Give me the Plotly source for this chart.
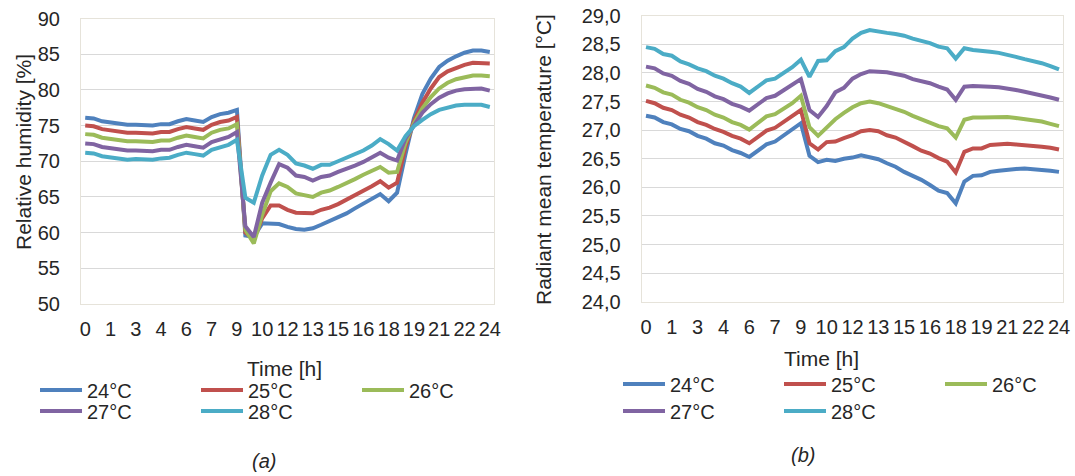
import plotly.graph_objects as go

# time axis: half-hourly 0 .. 24 h
hours = [i * 0.5 for i in range(49)]
tick_vals = [0, 1.5, 3, 4.5, 6, 7.5, 9, 10.5, 12, 13.5, 15, 16.5, 18, 19.5, 21, 22.5, 24]
tick_text = ["0", "1", "3", "4", "6", "7", "9", "10", "12", "13", "15", "16", "18", "19", "21", "22", "24"]
series_names = ["24°C", "25°C", "26°C", "27°C", "28°C"]
colors = ["#4F81BD", "#C0504D", "#9BBB59", "#8064A2", "#4BACC6"]

# (a) relative humidity [%]
rh_24 = [76.1, 76.0, 75.6, 75.4, 75.3, 75.1, 75.1, 75.0, 75.0, 75.2, 75.2, 75.6, 75.9, 75.7, 75.5, 76.2, 76.6,
         76.8, 77.2, 59.6, 59.4, 61.3, 61.2, 61.2, 60.8, 60.5, 60.4, 60.6, 61.1, 61.6, 62.1, 62.7, 63.4, 64.1,
         64.8, 65.4, 64.4, 65.6, 71.0, 76.0, 79.4, 81.6, 83.2, 84.1, 84.7, 85.2, 85.5, 85.5, 85.3]
rh_25 = [75.0, 74.9, 74.5, 74.3, 74.2, 74.0, 74.0, 73.9, 73.9, 74.1, 74.1, 74.5, 74.8, 74.6, 74.4, 75.1, 75.5,
         75.7, 76.2, 60.0, 59.0, 62.0, 63.8, 63.8, 63.2, 62.8, 62.7, 62.7, 63.2, 63.5, 64.0, 64.6, 65.2, 65.8,
         66.5, 67.2, 66.3, 67.0, 72.0, 75.6, 78.2, 80.2, 81.8, 82.6, 83.1, 83.5, 83.8, 83.8, 83.7]
rh_26 = [73.8, 73.7, 73.3, 73.1, 73.0, 72.8, 72.8, 72.7, 72.7, 72.9, 72.9, 73.3, 73.6, 73.4, 73.2, 74.0, 74.4,
         74.6, 75.2, 60.4, 58.5, 62.5, 65.8, 66.9, 66.4, 65.5, 65.3, 65.0, 65.6, 65.9, 66.4, 66.9, 67.5, 68.1,
         68.7, 69.2, 68.4, 68.5, 72.6, 75.3, 77.4, 79.0, 80.2, 81.0, 81.5, 81.8, 82.0, 82.0, 81.9]
rh_27 = [72.5, 72.4, 72.0, 71.8, 71.7, 71.5, 71.5, 71.4, 71.4, 71.6, 71.6, 72.0, 72.3, 72.1, 71.9, 72.7, 73.1,
         73.4, 74.1, 60.9, 59.4, 64.2, 67.0, 69.6, 69.1, 68.0, 67.8, 67.3, 67.8, 68.0, 68.5, 68.9, 69.4, 69.9,
         70.5, 71.2, 70.5, 70.1, 73.2, 75.1, 76.8, 78.0, 78.9, 79.5, 79.9, 80.1, 80.2, 80.2, 79.9]
rh_28 = [71.2, 71.1, 70.7, 70.5, 70.4, 70.2, 70.3, 70.2, 70.2, 70.4, 70.5, 70.9, 71.2, 71.0, 70.8, 71.6, 71.9,
         72.3, 73.0, 64.9, 64.2, 68.0, 70.9, 71.6, 70.9, 69.7, 69.4, 68.95, 69.5, 69.5, 70.0, 70.5, 71.0, 71.5,
         72.2, 73.1, 72.4, 71.5, 73.5, 74.9, 75.8, 76.6, 77.2, 77.5, 77.8, 77.9, 77.9, 77.9, 77.6]

# (b) radiant mean temperature [°C]
mrt_24 = [27.25, 27.22, 27.14, 27.10, 27.02, 26.98, 26.90, 26.85, 26.77, 26.73, 26.65, 26.60, 26.53, 26.64, 26.75,
          26.80, 26.90, 27.00, 27.12, 26.55, 26.44, 26.48, 26.46, 26.50, 26.52, 26.56, 26.52, 26.49, 26.42, 26.36,
          26.27, 26.20, 26.13, 26.04, 25.94, 25.90, 25.72, 26.10, 26.20, 26.21, 26.27, 26.29, 26.31, 26.32, 26.33,
          26.32, 26.31, 26.29, 26.27]
mrt_25 = [27.51, 27.47, 27.39, 27.35, 27.27, 27.22, 27.14, 27.09, 27.02, 26.97, 26.90, 26.85, 26.77, 26.88, 26.99,
          27.04, 27.14, 27.24, 27.35, 26.77, 26.66, 26.79, 26.80, 26.86, 26.91, 26.98, 27.00, 26.98, 26.91, 26.87,
          26.80, 26.72, 26.64, 26.59, 26.51, 26.45, 26.26, 26.62, 26.68, 26.68, 26.74, 26.75, 26.76, 26.75, 26.74,
          26.73, 26.71, 26.69, 26.66]
mrt_26 = [27.78, 27.74, 27.66, 27.62, 27.53, 27.48, 27.40, 27.35, 27.27, 27.22, 27.14, 27.09, 27.01, 27.12, 27.24,
          27.28, 27.38, 27.47, 27.60, 27.05, 26.90, 27.05, 27.19, 27.30, 27.40, 27.47, 27.50, 27.47, 27.42, 27.38,
          27.32, 27.25, 27.19, 27.14, 27.07, 27.03, 26.87, 27.18, 27.22, 27.22, 27.22, 27.23, 27.23, 27.21, 27.19,
          27.17, 27.15, 27.11, 27.07]
mrt_27 = [28.11, 28.08, 27.99, 27.95, 27.86, 27.81, 27.72, 27.67, 27.59, 27.54, 27.46, 27.41, 27.34, 27.45, 27.56,
          27.60, 27.70, 27.79, 27.89, 27.35, 27.23, 27.42, 27.66, 27.74, 27.90, 27.98, 28.03, 28.02, 28.01, 27.98,
          27.95, 27.89, 27.85, 27.82, 27.76, 27.71, 27.53, 27.76, 27.77, 27.77, 27.76, 27.75, 27.73, 27.70, 27.67,
          27.64, 27.61, 27.57, 27.53]
mrt_28 = [28.45, 28.42, 28.33, 28.30, 28.20, 28.15, 28.08, 28.03, 27.95, 27.90, 27.82, 27.76, 27.65, 27.75, 27.87,
          27.90, 28.00, 28.10, 28.23, 27.93, 28.21, 28.22, 28.38, 28.45, 28.60, 28.70, 28.75, 28.72, 28.70, 28.68,
          28.65, 28.60, 28.56, 28.52, 28.46, 28.43, 28.25, 28.43, 28.40, 28.39, 28.37, 28.35, 28.32, 28.28, 28.24,
          28.21, 28.17, 28.12, 28.06]

rh_series = [rh_24, rh_25, rh_26, rh_27, rh_28]
mrt_series = [mrt_24, mrt_25, mrt_26, mrt_27, mrt_28]

FONT = "Liberation Sans, Arial, sans-serif"
TXT = "#262626"
fig = go.Figure()

for i, (name, col, ys) in enumerate(zip(series_names, colors, rh_series)):
    fig.add_trace(go.Scatter(x=hours, y=ys, name=name, mode="lines",
                             line=dict(color=col, width=4), xaxis="x", yaxis="y",
                             legend="legend" if i < 3 else "legend2"))
for i, (name, col, ys) in enumerate(zip(series_names, colors, mrt_series)):
    fig.add_trace(go.Scatter(x=hours, y=ys, name=name, mode="lines",
                             line=dict(color=col, width=4), xaxis="x2", yaxis="y2",
                             legend="legend3" if i < 3 else "legend4"))

W, H = 1075, 476
axis_common = dict(showgrid=True, gridcolor="#D9D9D9", gridwidth=1, zeroline=False,
                   showline=True, mirror=True, linecolor="#E6E3DA", linewidth=1,
                   ticks="", tickfont=dict(family=FONT, size=20, color=TXT))
xcommon = dict(axis_common, showgrid=False, tickmode="array", tickvals=tick_vals, ticktext=tick_text,
               range=[-0.25, 24.25], ticklabelstandoff=7)
ycommon = dict(axis_common, ticklabelstandoff=16)

legend_common = dict(orientation="h", xanchor="left", yanchor="middle", font=dict(family=FONT, size=20, color=TXT),
                     bgcolor="rgba(0,0,0,0)", itemwidth=42, entrywidth=104, entrywidthmode="pixels",
                     tracegroupgap=0, itemclick=False, itemdoubleclick=False)


def label(text, x, y, size=21, angle=0):
    return dict(text=text, x=x / W, y=1 - y / H, xref="paper", yref="paper", xanchor="center",
                yanchor="middle", textangle=angle, showarrow=False,
                font=dict(family=FONT, size=size, color=TXT))


fig.update_layout(
    width=W, height=H,
    margin=dict(l=0, r=0, t=0, b=0, autoexpand=False),
    paper_bgcolor="white", plot_bgcolor="white",
    separators=", ",
    showlegend=True,
    xaxis=dict(xcommon, domain=[81 / W, 494 / W], anchor="y"),
    yaxis=dict(ycommon, domain=[1 - 304 / H, 1 - 18.5 / H], range=[50, 90], dtick=5, anchor="x"),
    xaxis2=dict(xcommon, domain=[641.7 / W, 1063.3 / W], anchor="y2"),
    yaxis2=dict(ycommon, domain=[1 - 301.7 / H, 1 - 15.7 / H], range=[24, 29], dtick=0.5,
                tickformat=".1f", anchor="x2"),
    legend=dict(legend_common, x=35 / W, y=1 - 390 / H),
    legend2=dict(legend_common, x=35 / W, y=1 - 411 / H),
    legend3=dict(legend_common, x=618 / W, y=1 - 384 / H),
    legend4=dict(legend_common, x=618 / W, y=1 - 411 / H),
    annotations=[
        label("Relative humidity [%]", 23, 152, angle=-90),
        label("Radiant mean temperature [°C]", 543, 160, angle=-90),
        label("Time [h]", 284, 368),
        label("Time [h]", 821, 358),
        label("<i>(a)</i>", 264, 461, size=20),
        label("<i>(b)</i>", 803, 455, size=20),
    ],
)

fig.write_html("out.html")
